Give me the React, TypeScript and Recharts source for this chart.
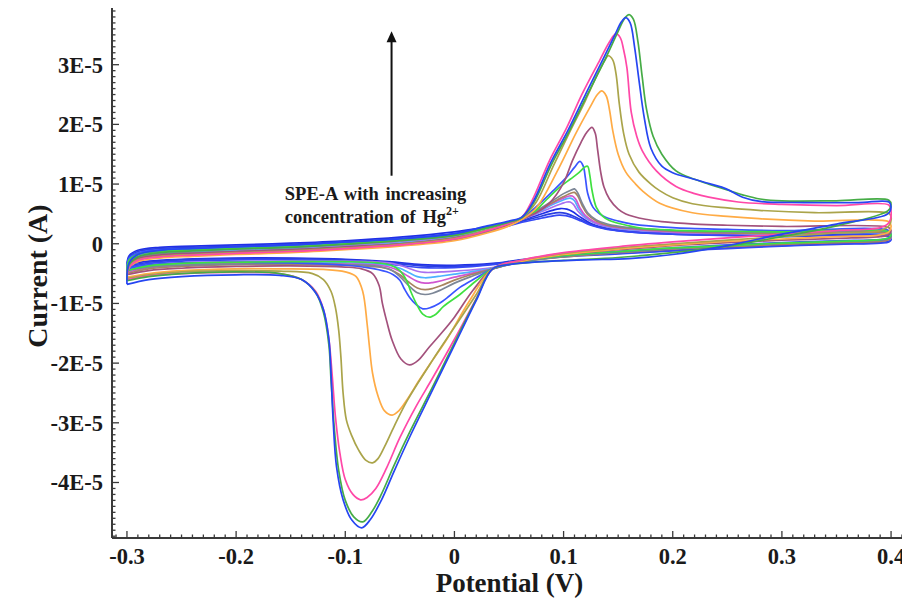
import React from 'react';
import { LineChart, Line, XAxis, YAxis, ReferenceLine, ReferenceDot, Label } from 'recharts';

// ---------- axes ----------
const X_DOMAIN = [-0.3137, 0.4146];
const Y_DOMAIN = [-4.93, 3.95]; // units of 1E-5 A
const X_MAJOR = [-0.3, -0.2, -0.1, 0, 0.1, 0.2, 0.3, 0.4];
const X_LABELS = ['-0.3', '-0.2', '-0.1', '0', '0.1', '0.2', '0.3', '0.4'];
const Y_MAJOR = [-4, -3, -2, -1, 0, 1, 2, 3];
const Y_LABELS = ['-4E-5', '-3E-5', '-2E-5', '-1E-5', '0', '1E-5', '2E-5', '3E-5'];
const X_TITLE = 'Potential (V)';
const Y_TITLE = 'Current (A)';
const NOTE_1 = 'SPE-A with increasing';
const NOTE_2 = 'concentration of  Hg';
const NOTE_SUP = '2+';

// ---------- CV curves [potential V, current 1E-5 A] ----------
const BLUE_A: number[][] = [[-0.3,-0.35],[-0.298,-0.2],[-0.29,-0.11],[-0.27,-0.06],[-0.24,-0.04],[-0.2,-0.02],[-0.15,0.01],[-0.1,0.05],[-0.05,0.11],[0,0.2],[0.03,0.28],[0.05,0.34],[0.062,0.4],[0.075,0.47],[0.088,0.55],[0.097,0.59],[0.103,0.58],[0.108,0.54],[0.115,0.45],[0.125,0.34],[0.14,0.26],[0.16,0.21],[0.2,0.17],[0.25,0.15],[0.3,0.14],[0.398,0.14],
  [0.4,0.09],[0.398,0.05],[0.39,0.03],[0.35,0.01],[0.3,-0.02],[0.25,-0.06],[0.2,-0.1],[0.15,-0.15],[0.1,-0.2],[0.06,-0.27],[0.035,-0.33],[0,-0.36],[-0.03,-0.35],[-0.06,-0.3],[-0.1,-0.26],[-0.15,-0.24],[-0.2,-0.24],[-0.25,-0.26],[-0.28,-0.29],[-0.3,-0.35]];
const BLUE_B: number[][] = [[-0.3,-0.38],[-0.298,-0.22],[-0.29,-0.13],[-0.27,-0.08],[-0.24,-0.06],[-0.2,-0.04],[-0.15,-0.01],[-0.1,0.03],[-0.05,0.09],[0,0.17],[0.03,0.26],[0.05,0.33],[0.062,0.38],[0.075,0.44],[0.088,0.5],[0.096,0.52],[0.102,0.51],[0.108,0.47],[0.116,0.4],[0.125,0.32],[0.14,0.25],[0.16,0.2],[0.2,0.16],[0.25,0.14],[0.3,0.13],[0.398,0.13],
  [0.4,0.08],[0.398,0.04],[0.39,0.02],[0.35,0],[0.3,-0.03],[0.25,-0.07],[0.2,-0.11],[0.15,-0.16],[0.1,-0.21],[0.06,-0.28],[0.035,-0.34],[0,-0.38],[-0.03,-0.37],[-0.06,-0.32],[-0.1,-0.27],[-0.15,-0.25],[-0.2,-0.25],[-0.25,-0.27],[-0.28,-0.31],[-0.3,-0.38]];
const BLUE_C: number[][] = [[-0.3,-0.4],[-0.298,-0.26],[-0.29,-0.17],[-0.27,-0.12],[-0.24,-0.1],[-0.2,-0.08],[-0.15,-0.05],[-0.1,-0.01],[-0.05,0.05],[0,0.13],[0.03,0.22],[0.05,0.3],[0.062,0.36],[0.075,0.41],[0.088,0.46],[0.096,0.48],[0.102,0.47],[0.108,0.44],[0.116,0.38],[0.125,0.31],[0.14,0.24],[0.16,0.2],[0.2,0.16],[0.25,0.14],[0.3,0.12],[0.398,0.12],
  [0.4,0.07],[0.398,0.03],[0.39,0.01],[0.35,-0.01],[0.3,-0.04],[0.25,-0.08],[0.2,-0.12],[0.15,-0.17],[0.1,-0.22],[0.06,-0.29],[0.035,-0.35],[0,-0.4],[-0.03,-0.4],[-0.06,-0.34],[-0.1,-0.29],[-0.15,-0.27],[-0.2,-0.27],[-0.25,-0.29],[-0.28,-0.33],[-0.3,-0.4]];
const PURPLE: number[][] = [[-0.3,-0.42],[-0.298,-0.27],[-0.29,-0.19],[-0.27,-0.14],[-0.24,-0.12],[-0.2,-0.1],[-0.15,-0.07],[-0.1,-0.03],[-0.05,0.03],[0,0.12],[0.03,0.23],[0.05,0.33],[0.062,0.41],[0.075,0.5],[0.088,0.6],[0.098,0.67],[0.103,0.7],[0.106,0.7],[0.109,0.66],[0.113,0.55],[0.12,0.43],[0.128,0.35],[0.14,0.28],[0.16,0.23],[0.2,0.19],[0.25,0.17],[0.3,0.16],[0.398,0.16],
  [0.4,0.11],[0.398,0.07],[0.39,0.05],[0.35,0.03],[0.3,0],[0.25,-0.04],[0.2,-0.08],[0.15,-0.13],[0.1,-0.2],[0.06,-0.29],[0.035,-0.4],[0.015,-0.44],[0,-0.46],[-0.012,-0.47],[-0.02,-0.48],[-0.027,-0.48],[-0.034,-0.46],[-0.042,-0.41],[-0.05,-0.36],[-0.06,-0.32],[-0.075,-0.3],[-0.1,-0.29],[-0.15,-0.29],[-0.2,-0.3],[-0.25,-0.32],[-0.28,-0.36],[-0.3,-0.42]];
const SKY: number[][] = [[-0.3,-0.44],[-0.298,-0.3],[-0.29,-0.21],[-0.27,-0.16],[-0.24,-0.14],[-0.2,-0.12],[-0.15,-0.09],[-0.1,-0.05],[-0.05,0.01],[0,0.1],[0.03,0.22],[0.05,0.32],[0.062,0.41],[0.075,0.51],[0.088,0.64],[0.098,0.72],[0.104,0.76],[0.107,0.76],[0.11,0.72],[0.114,0.58],[0.12,0.45],[0.128,0.36],[0.14,0.29],[0.16,0.24],[0.2,0.2],[0.25,0.18],[0.3,0.16],[0.398,0.16],
  [0.4,0.11],[0.398,0.07],[0.39,0.05],[0.35,0.03],[0.3,0],[0.25,-0.04],[0.2,-0.08],[0.15,-0.14],[0.1,-0.2],[0.06,-0.3],[0.035,-0.41],[0.015,-0.47],[0,-0.51],[-0.012,-0.54],[-0.02,-0.56],[-0.027,-0.57],[-0.034,-0.55],[-0.042,-0.48],[-0.05,-0.41],[-0.06,-0.36],[-0.075,-0.34],[-0.1,-0.32],[-0.15,-0.32],[-0.2,-0.32],[-0.25,-0.34],[-0.28,-0.38],[-0.3,-0.44]];
const MAGENTA: number[][] = [[-0.3,-0.48],[-0.298,-0.32],[-0.29,-0.23],[-0.27,-0.18],[-0.24,-0.16],[-0.2,-0.14],[-0.15,-0.11],[-0.1,-0.07],[-0.05,-0.01],[0,0.08],[0.03,0.2],[0.05,0.31],[0.062,0.41],[0.075,0.52],[0.088,0.66],[0.098,0.75],[0.105,0.8],[0.108,0.8],[0.111,0.75],[0.115,0.6],[0.12,0.47],[0.128,0.37],[0.14,0.3],[0.16,0.25],[0.2,0.2],[0.25,0.18],[0.3,0.17],[0.398,0.17],
  [0.4,0.12],[0.398,0.07],[0.39,0.05],[0.35,0.03],[0.3,0],[0.25,-0.04],[0.2,-0.08],[0.15,-0.14],[0.1,-0.21],[0.06,-0.3],[0.035,-0.42],[0.015,-0.5],[0,-0.56],[-0.012,-0.62],[-0.02,-0.65],[-0.027,-0.66],[-0.034,-0.63],[-0.042,-0.55],[-0.05,-0.46],[-0.06,-0.39],[-0.07,-0.36],[-0.1,-0.34],[-0.15,-0.33],[-0.2,-0.33],[-0.25,-0.36],[-0.28,-0.4],[-0.3,-0.48]];
const BROWN: number[][] = [[-0.3,-0.5],[-0.298,-0.33],[-0.29,-0.24],[-0.27,-0.19],[-0.24,-0.17],[-0.2,-0.15],[-0.15,-0.12],[-0.1,-0.08],[-0.05,-0.02],[0,0.07],[0.03,0.2],[0.05,0.31],[0.062,0.41],[0.075,0.53],[0.09,0.69],[0.1,0.79],[0.107,0.85],[0.11,0.86],[0.113,0.8],[0.117,0.64],[0.122,0.49],[0.13,0.38],[0.14,0.31],[0.16,0.26],[0.2,0.21],[0.25,0.18],[0.3,0.17],[0.398,0.17],
  [0.4,0.12],[0.398,0.07],[0.39,0.04],[0.35,0.02],[0.3,-0.01],[0.25,-0.05],[0.2,-0.09],[0.15,-0.15],[0.1,-0.22],[0.06,-0.31],[0.035,-0.42],[0.015,-0.52],[0,-0.61],[-0.012,-0.7],[-0.02,-0.75],[-0.027,-0.77],[-0.034,-0.74],[-0.042,-0.64],[-0.05,-0.52],[-0.058,-0.44],[-0.07,-0.39],[-0.1,-0.36],[-0.15,-0.35],[-0.2,-0.35],[-0.25,-0.38],[-0.28,-0.42],[-0.3,-0.5]];
const GRAY: number[][] = [[-0.3,-0.45],[-0.298,-0.3],[-0.29,-0.22],[-0.27,-0.17],[-0.24,-0.15],[-0.2,-0.13],[-0.15,-0.1],[-0.1,-0.06],[-0.05,0],[0,0.09],[0.03,0.21],[0.05,0.32],[0.062,0.42],[0.075,0.55],[0.09,0.72],[0.1,0.84],[0.107,0.9],[0.11,0.92],[0.113,0.85],[0.117,0.68],[0.122,0.52],[0.13,0.4],[0.14,0.33],[0.16,0.27],[0.2,0.22],[0.25,0.2],[0.3,0.19],[0.398,0.19],
  [0.4,0.14],[0.398,0.09],[0.39,0.06],[0.35,0.04],[0.3,0.01],[0.25,-0.03],[0.2,-0.08],[0.15,-0.14],[0.1,-0.21],[0.06,-0.31],[0.035,-0.42],[0.015,-0.55],[0,-0.66],[-0.012,-0.77],[-0.02,-0.83],[-0.027,-0.85],[-0.034,-0.82],[-0.042,-0.7],[-0.05,-0.55],[-0.058,-0.44],[-0.07,-0.38],[-0.1,-0.35],[-0.15,-0.33],[-0.2,-0.34],[-0.25,-0.36],[-0.28,-0.39],[-0.3,-0.45]];
const BLUE_MID: number[][] = [[-0.3,-0.42],[-0.298,-0.24],[-0.29,-0.15],[-0.27,-0.1],[-0.24,-0.08],[-0.2,-0.06],[-0.15,-0.03],[-0.1,0.02],[-0.05,0.08],[0,0.16],[0.03,0.27],[0.05,0.36],[0.062,0.43],[0.075,0.62],[0.09,0.88],[0.103,1.12],[0.11,1.28],[0.115,1.38],[0.118,1.3],[0.12,1.1],[0.122,0.85],[0.127,0.61],[0.133,0.5],[0.139,0.44],[0.15,0.38],[0.163,0.33],[0.2,0.27],[0.25,0.24],[0.3,0.22],[0.398,0.22],
  [0.4,0.16],[0.398,0.1],[0.39,0.07],[0.35,0.05],[0.3,0.02],[0.25,-0.02],[0.2,-0.07],[0.15,-0.13],[0.1,-0.2],[0.06,-0.3],[0.035,-0.42],[0.02,-0.57],[0.005,-0.73],[-0.005,-0.88],[-0.014,-1],[-0.022,-1.07],[-0.029,-1.09],[-0.035,-1.02],[-0.041,-0.9],[-0.046,-0.75],[-0.05,-0.61],[-0.056,-0.52],[-0.062,-0.47],[-0.08,-0.4],[-0.1,-0.36],[-0.15,-0.32],[-0.2,-0.31],[-0.25,-0.32],[-0.28,-0.35],[-0.3,-0.42]];
const LIME: number[][] = [[-0.3,-0.45],[-0.298,-0.27],[-0.29,-0.18],[-0.27,-0.13],[-0.24,-0.1],[-0.2,-0.08],[-0.15,-0.05],[-0.1,0],[-0.05,0.06],[0,0.14],[0.03,0.26],[0.05,0.36],[0.062,0.42],[0.071,0.5],[0.085,0.75],[0.096,0.94],[0.106,1.08],[0.114,1.19],[0.119,1.28],[0.122,1.3],[0.124,1.15],[0.126,0.9],[0.13,0.61],[0.136,0.46],[0.142,0.39],[0.16,0.3],[0.172,0.26],[0.2,0.23],[0.25,0.21],[0.3,0.2],[0.398,0.2],
  [0.4,0.15],[0.398,0.1],[0.39,0.07],[0.35,0.04],[0.3,0.01],[0.25,-0.03],[0.2,-0.07],[0.15,-0.13],[0.1,-0.2],[0.06,-0.3],[0.035,-0.42],[0.02,-0.62],[0.005,-0.85],[-0.01,-1.05],[-0.017,-1.18],[-0.023,-1.23],[-0.029,-1.18],[-0.035,-1],[-0.04,-0.8],[-0.044,-0.61],[-0.05,-0.45],[-0.058,-0.36],[-0.07,-0.32],[-0.1,-0.3],[-0.15,-0.3],[-0.2,-0.31],[-0.25,-0.33],[-0.28,-0.37],[-0.3,-0.45]];
const MAROON: number[][] = [[-0.3,-0.52],[-0.298,-0.36],[-0.29,-0.25],[-0.27,-0.19],[-0.24,-0.16],[-0.2,-0.13],[-0.15,-0.1],[-0.1,-0.05],[-0.05,0],[0,0.1],[0.03,0.22],[0.05,0.32],[0.062,0.42],[0.075,0.52],[0.087,0.68],[0.1,1.02],[0.108,1.39],[0.116,1.7],[0.121,1.86],[0.126,1.95],[0.129,1.85],[0.131,1.6],[0.134,1.2],[0.137,0.95],[0.142,0.75],[0.15,0.58],[0.157,0.5],[0.175,0.41],[0.19,0.37],[0.22,0.33],[0.25,0.31],[0.3,0.29],[0.398,0.27],
  [0.4,0.22],[0.398,0.15],[0.39,0.12],[0.35,0.09],[0.3,0.06],[0.25,0.02],[0.2,-0.03],[0.15,-0.1],[0.1,-0.18],[0.06,-0.3],[0.035,-0.42],[0.017,-0.78],[0,-1.23],[-0.012,-1.5],[-0.023,-1.73],[-0.033,-1.95],[-0.041,-2.03],[-0.049,-1.93],[-0.057,-1.62],[-0.062,-1.3],[-0.066,-1],[-0.069,-0.7],[-0.075,-0.5],[-0.085,-0.42],[-0.1,-0.39],[-0.15,-0.37],[-0.2,-0.38],[-0.25,-0.41],[-0.28,-0.45],[-0.3,-0.52]];
const ORANGE: number[][] = [[-0.3,-0.56],[-0.298,-0.4],[-0.29,-0.3],[-0.27,-0.24],[-0.24,-0.21],[-0.2,-0.18],[-0.15,-0.15],[-0.1,-0.1],[-0.05,-0.04],[0,0.05],[0.03,0.18],[0.05,0.3],[0.062,0.41],[0.075,0.6],[0.096,1.28],[0.111,1.84],[0.124,2.28],[0.131,2.5],[0.135,2.56],[0.139,2.48],[0.142,2.25],[0.145,1.9],[0.15,1.5],[0.157,1.2],[0.166,1],[0.172,0.89],[0.188,0.68],[0.218,0.52],[0.25,0.46],[0.279,0.42],[0.33,0.38],[0.398,0.37],
  [0.4,0.3],[0.398,0.2],[0.39,0.15],[0.35,0.12],[0.3,0.08],[0.25,0.04],[0.2,-0.02],[0.15,-0.09],[0.1,-0.18],[0.06,-0.3],[0.035,-0.42],[0.014,-0.95],[-0.007,-1.6],[-0.02,-1.95],[-0.032,-2.28],[-0.043,-2.6],[-0.051,-2.8],[-0.057,-2.87],[-0.064,-2.8],[-0.07,-2.55],[-0.075,-2.17],[-0.078,-1.7],[-0.08,-1.34],[-0.084,-0.8],[-0.09,-0.55],[-0.1,-0.47],[-0.12,-0.43],[-0.16,-0.42],[-0.2,-0.42],[-0.25,-0.45],[-0.28,-0.5],[-0.3,-0.56]];
const OLIVE: number[][] = [[-0.3,-0.58],[-0.298,-0.38],[-0.29,-0.27],[-0.27,-0.21],[-0.24,-0.18],[-0.2,-0.15],[-0.15,-0.12],[-0.1,-0.07],[-0.05,-0.01],[0,0.09],[0.03,0.23],[0.05,0.34],[0.062,0.44],[0.075,0.7],[0.09,1.28],[0.105,1.85],[0.12,2.4],[0.132,2.88],[0.138,3.08],[0.141,3.15],[0.145,3.08],[0.148,2.85],[0.151,2.35],[0.155,1.85],[0.16,1.5],[0.169,1.2],[0.18,1],[0.188,0.89],[0.2,0.77],[0.218,0.67],[0.25,0.6],[0.279,0.56],[0.33,0.52],[0.398,0.51],
  [0.4,0.45],[0.398,0.3],[0.39,0.22],[0.35,0.18],[0.3,0.12],[0.25,0.06],[0.2,0],[0.15,-0.07],[0.1,-0.16],[0.06,-0.28],[0.035,-0.42],[0.02,-0.85],[0,-1.4],[-0.02,-1.95],[-0.043,-2.62],[-0.055,-3.05],[-0.064,-3.4],[-0.07,-3.6],[-0.075,-3.67],[-0.081,-3.63],[-0.088,-3.45],[-0.094,-3.22],[-0.099,-2.95],[-0.102,-2.5],[-0.104,-1.9],[-0.106,-1.45],[-0.109,-1.07],[-0.113,-0.8],[-0.12,-0.6],[-0.13,-0.5],[-0.16,-0.46],[-0.2,-0.45],[-0.25,-0.47],[-0.28,-0.52],[-0.3,-0.58]];
const PINK: number[][] = [[-0.3,-0.6],[-0.298,-0.4],[-0.29,-0.28],[-0.27,-0.22],[-0.24,-0.19],[-0.2,-0.16],[-0.15,-0.13],[-0.1,-0.08],[-0.05,-0.02],[0,0.08],[0.03,0.22],[0.05,0.34],[0.062,0.45],[0.071,0.72],[0.087,1.39],[0.103,1.95],[0.117,2.51],[0.133,3.07],[0.142,3.38],[0.148,3.52],[0.152,3.45],[0.155,3.25],[0.158,2.95],[0.162,2.2],[0.167,1.8],[0.172,1.56],[0.185,1.22],[0.203,0.96],[0.22,0.84],[0.233,0.78],[0.26,0.7],[0.3,0.66],[0.35,0.64],[0.398,0.65],
  [0.4,0.55],[0.398,0.35],[0.39,0.27],[0.35,0.22],[0.3,0.16],[0.25,0.1],[0.2,0.03],[0.15,-0.05],[0.1,-0.15],[0.06,-0.28],[0.035,-0.42],[0.02,-0.92],[0,-1.6],[-0.02,-2.25],[-0.035,-2.72],[-0.05,-3.25],[-0.062,-3.75],[-0.072,-4.1],[-0.08,-4.25],[-0.086,-4.29],[-0.093,-4.2],[-0.1,-3.95],[-0.105,-3.5],[-0.109,-2.9],[-0.112,-2.2],[-0.115,-1.6],[-0.12,-1.1],[-0.127,-0.8],[-0.14,-0.6],[-0.16,-0.5],[-0.2,-0.48],[-0.25,-0.5],[-0.28,-0.54],[-0.3,-0.6]];
const GREEN: number[][] = [[-0.3,-0.62],[-0.298,-0.35],[-0.29,-0.22],[-0.27,-0.15],[-0.24,-0.12],[-0.2,-0.09],[-0.15,-0.06],[-0.1,-0.01],[-0.05,0.05],[0,0.14],[0.03,0.27],[0.05,0.36],[0.062,0.44],[0.073,0.7],[0.089,1.33],[0.105,1.88],[0.121,2.47],[0.137,3.05],[0.149,3.52],[0.156,3.78],[0.16,3.84],[0.164,3.76],[0.168,3.4],[0.172,2.8],[0.176,2.25],[0.182,1.8],[0.19,1.5],[0.203,1.22],[0.22,1.08],[0.233,1],[0.25,0.9],[0.264,0.82],[0.28,0.75],[0.3,0.72],[0.35,0.72],[0.398,0.73],
  [0.4,0.65],[0.397,0.55],[0.35,0.3],[0.3,0.12],[0.25,-0.04],[0.2,-0.15],[0.15,-0.23],[0.1,-0.28],[0.06,-0.33],[0.035,-0.42],[0.02,-0.93],[0,-1.66],[-0.02,-2.4],[-0.04,-3.12],[-0.055,-3.7],[-0.067,-4.2],[-0.076,-4.5],[-0.084,-4.66],[-0.092,-4.58],[-0.1,-4.3],[-0.106,-3.8],[-0.11,-3.1],[-0.113,-2.3],[-0.115,-1.7],[-0.12,-1.15],[-0.127,-0.82],[-0.14,-0.6],[-0.16,-0.5],[-0.2,-0.47],[-0.25,-0.5],[-0.28,-0.55],[-0.3,-0.62]];
const BLUE_BIG: number[][] = [[-0.3,-0.68],[-0.298,-0.32],[-0.29,-0.18],[-0.27,-0.11],[-0.24,-0.08],[-0.2,-0.05],[-0.15,-0.02],[-0.1,0.03],[-0.05,0.08],[0,0.17],[0.03,0.3],[0.05,0.38],[0.062,0.45],[0.072,0.7],[0.088,1.35],[0.104,1.9],[0.12,2.5],[0.135,3.05],[0.147,3.5],[0.153,3.72],[0.157,3.79],[0.161,3.7],[0.165,3.3],[0.169,2.75],[0.174,2.1],[0.18,1.6],[0.19,1.3],[0.2,1.19],[0.218,1.09],[0.235,1],[0.249,0.92],[0.264,0.78],[0.28,0.71],[0.32,0.69],[0.37,0.69],[0.398,0.7],
  [0.4,0.62],[0.397,0.5],[0.35,0.33],[0.3,0.16],[0.25,-0.03],[0.2,-0.18],[0.16,-0.25],[0.12,-0.27],[0.08,-0.3],[0.05,-0.35],[0.035,-0.42],[0.02,-0.95],[0,-1.7],[-0.02,-2.45],[-0.04,-3.2],[-0.055,-3.8],[-0.067,-4.3],[-0.077,-4.62],[-0.085,-4.76],[-0.094,-4.63],[-0.102,-4.29],[-0.108,-3.74],[-0.111,-3],[-0.113,-2.2],[-0.115,-1.6],[-0.12,-1.1],[-0.128,-0.8],[-0.14,-0.6],[-0.16,-0.53],[-0.2,-0.52],[-0.25,-0.55],[-0.28,-0.6],[-0.3,-0.68]];

const CURVES = [
  { name: 'c1', pts: BLUE_A, color: '#1f2fe6' },
  { name: 'c2', pts: BLUE_B, color: '#2b3fe0' },
  { name: 'c3', pts: BLUE_C, color: '#3548f5' },
  { name: 'c4', pts: PURPLE, color: '#a870f0' },
  { name: 'c5', pts: SKY, color: '#4cb2ff' },
  { name: 'c6', pts: MAGENTA, color: '#d056d0' },
  { name: 'c7', pts: BROWN, color: '#a8845f' },
  { name: 'c8', pts: GRAY, color: '#7c8696' },
  { name: 'c9', pts: BLUE_MID, color: '#3a55ff' },
  { name: 'c10', pts: LIME, color: '#3fe040' },
  { name: 'c11', pts: MAROON, color: '#a3517c' },
  { name: 'c12', pts: ORANGE, color: '#ffab45' },
  { name: 'c13', pts: OLIVE, color: '#aaa44a' },
  { name: 'c14', pts: PINK, color: '#ff48a8' },
  { name: 'c15', pts: GREEN, color: '#46ac46' },
  { name: 'c16', pts: BLUE_BIG, color: '#2646f2' },
];

// annotation anchors (data coords)
const ARROW_X = -0.0576;
const ARROW_Y0 = 1.14;
const ARROW_Y1 = 3.42;
const ARROW_TIP = 3.56;
const NOTE_X = -0.1554;
const NOTE_Y1 = 0.84;
const NOTE_Y2 = 0.44;

// ---------- styling ----------
const FRAME = '#3a3a3a';
const FONT = "'Liberation Serif', 'Times New Roman', serif";
const TEXT = '#1a1a1a';

// decorative minor tick positions
const X_TICKS = Array.from({ length: 73 }, (_, i) => (i - 31) / 100);
const Y_TICKS = Array.from({ length: 89 }, (_, i) => (i - 49) / 10);
const isMajor = (list: number[], v: number) => list.findIndex((m) => Math.abs(m - v) < 1e-9);

// centripetal Catmull-Rom curve factory for d3-style line generator
const catmullRom = (context: any) => {
  let pts: number[][] = [];
  return {
    areaStart() {},
    areaEnd() {},
    lineStart() { pts = []; },
    point(x: number, y: number) { pts.push([+x, +y]); },
    lineEnd() {
      const n = pts.length;
      if (!n) return;
      context.moveTo(pts[0][0], pts[0][1]);
      for (let i = 0; i < n - 1; i++) {
        const p0 = pts[i - 1] || pts[i];
        const p1 = pts[i];
        const p2 = pts[i + 1];
        const p3 = pts[i + 2] || p2;
        const d01 = Math.hypot(p1[0] - p0[0], p1[1] - p0[1]);
        const d12 = Math.hypot(p2[0] - p1[0], p2[1] - p1[1]);
        const d23 = Math.hypot(p3[0] - p2[0], p3[1] - p2[1]);
        const a01 = Math.sqrt(d01), a12 = Math.sqrt(d12), a23 = Math.sqrt(d23);
        let c1x = p1[0], c1y = p1[1], c2x = p2[0], c2y = p2[1];
        if (a01 > 1e-9) {
          const a = 2 * d01 + 3 * a01 * a12 + d12;
          const nn = 3 * a01 * (a01 + a12);
          c1x = (p1[0] * a - p0[0] * d12 + p2[0] * d01) / nn;
          c1y = (p1[1] * a - p0[1] * d12 + p2[1] * d01) / nn;
        }
        if (a23 > 1e-9) {
          const b = 2 * d23 + 3 * a23 * a12 + d12;
          const m = 3 * a23 * (a23 + a12);
          c2x = (p2[0] * b + p1[0] * d23 - p3[0] * d12) / m;
          c2y = (p2[1] * b + p1[1] * d23 - p3[1] * d12) / m;
        }
        context.bezierCurveTo(c1x, c1y, c2x, c2y, p2[0], p2[1]);
      }
    },
  };
};

const BottomTick = (props: any) => {
  const { x, y, payload } = props;
  const idx = isMajor(X_MAJOR, payload.value);
  return (
    <g>
      <line x1={x} x2={x} y1={y} y2={y - (idx >= 0 ? 7 : 3.5)} stroke={FRAME} strokeWidth={1.3} />
      {idx >= 0 && (
        <text x={x} y={y + 26} textAnchor="middle" fontFamily={FONT} fontWeight="bold" fontSize={22.5} fill={TEXT}>
          {X_LABELS[idx]}
        </text>
      )}
    </g>
  );
};
const TopTick = (props: any) => {
  const { x, y, payload } = props;
  const idx = isMajor(X_MAJOR, payload.value);
  return <line x1={x} x2={x} y1={y} y2={y + (idx >= 0 ? 7 : 3.5)} stroke={FRAME} strokeWidth={1.3} />;
};
const LeftTick = (props: any) => {
  const { x, y, payload } = props;
  const idx = isMajor(Y_MAJOR, payload.value);
  return (
    <g>
      <line x1={x} x2={x + (idx >= 0 ? 7 : 3.5)} y1={y} y2={y} stroke={FRAME} strokeWidth={1.3} />
      {idx >= 0 && (
        <text x={x - 9} y={y + 8} textAnchor="end" fontFamily={FONT} fontWeight="bold" fontSize={22.5} fill={TEXT}>
          {Y_LABELS[idx]}
        </text>
      )}
    </g>
  );
};
const RightTick = (props: any) => {
  const { x, y, payload } = props;
  const idx = isMajor(Y_MAJOR, payload.value);
  return <line x1={x} x2={x - (idx >= 0 ? 7 : 3.5)} y1={y} y2={y} stroke={FRAME} strokeWidth={1.3} />;
};

const XTitle = (props: any) => {
  const vb = props.viewBox;
  return (
    <text x={vb.x + vb.width / 2} y={vb.y + 54} textAnchor="middle" fontFamily={FONT} fontWeight="bold" fontSize={27} fill={TEXT}>
      {X_TITLE}
    </text>
  );
};
const YTitle = (props: any) => {
  const vb = props.viewBox;
  const cx = 29;
  const cy = vb.y + vb.height / 2 + 3;
  return (
    <text x={cx} y={cy} transform={`rotate(-90 ${cx} ${cy})`} textAnchor="middle" dominantBaseline="central" fontFamily={FONT} fontWeight="bold" fontSize={28} fill={TEXT}>
      {Y_TITLE}
    </text>
  );
};

const axisLine = { stroke: FRAME, strokeWidth: 2 };

export default function App() {
  return (
    <div style={{ width: 902, height: 593 }}>
      <LineChart width={902} height={593} margin={{ top: 0, right: 3, bottom: 0, left: 0 }}>
        <XAxis
          dataKey="x"
          type="number"
          domain={X_DOMAIN}
          allowDataOverflow
          ticks={X_TICKS}
          interval={0}
          tickLine={false}
          tickSize={0}
          tickMargin={0}
          height={63}
          axisLine={axisLine}
          tick={BottomTick}
        >
          <Label content={XTitle} />
        </XAxis>
        <XAxis
          xAxisId="top"
          orientation="top"
          dataKey="x"
          type="number"
          domain={X_DOMAIN}
          allowDataOverflow
          ticks={X_TICKS}
          interval={0}
          tickLine={false}
          tickSize={0}
          tickMargin={0}
          height={0}
          axisLine={axisLine}
          tick={TopTick}
        />
        <YAxis
          type="number"
          domain={Y_DOMAIN}
          allowDataOverflow
          ticks={Y_TICKS}
          interval={0}
          tickLine={false}
          tickSize={0}
          tickMargin={0}
          width={104}
          axisLine={axisLine}
          tick={LeftTick}
        >
          <Label content={YTitle} />
        </YAxis>
        <YAxis
          yAxisId="right"
          orientation="right"
          type="number"
          domain={Y_DOMAIN}
          allowDataOverflow
          ticks={Y_TICKS}
          interval={0}
          tickLine={false}
          tickSize={0}
          tickMargin={0}
          width={0}
          axisLine={axisLine}
          tick={RightTick}
        />
        {CURVES.map((c) => (
          <Line
            key={c.name}
            name={c.name}
            data={c.pts.map(([x, y]) => ({ x, y }))}
            dataKey="y"
            type={catmullRom as any}
            stroke={c.color}
            strokeWidth={1.7}
            dot={false}
            activeDot={false}
            isAnimationActive={false}
          />
        ))}
        <ReferenceLine
          segment={[{ x: ARROW_X, y: ARROW_Y0 }, { x: ARROW_X, y: ARROW_Y1 }]}
          stroke="#111"
          strokeWidth={2}
        />
        <ReferenceDot
          x={ARROW_X}
          y={ARROW_TIP}
          r={5}
          shape={(p: any) => (
            <path d={`M${p.cx},${p.cy} L${p.cx - 5},${p.cy + 11} L${p.cx + 5},${p.cy + 11} Z`} fill="#111" />
          )}
        />
        <ReferenceDot
          x={NOTE_X}
          y={NOTE_Y1}
          r={1}
          shape={(p: any) => (
            <text x={p.cx} y={p.cy + 6} fontFamily={FONT} fontWeight="bold" fontSize={18.5} fill={TEXT} wordSpacing={2}>
              {NOTE_1}
            </text>
          )}
        />
        <ReferenceDot
          x={NOTE_X}
          y={NOTE_Y2}
          r={1}
          shape={(p: any) => (
            <text x={p.cx} y={p.cy + 6} fontFamily={FONT} fontWeight="bold" fontSize={18.5} fill={TEXT} wordSpacing={2}>
              {NOTE_2}
              <tspan dy={-8} fontSize={12}>{NOTE_SUP}</tspan>
            </text>
          )}
        />
      </LineChart>
    </div>
  );
}
